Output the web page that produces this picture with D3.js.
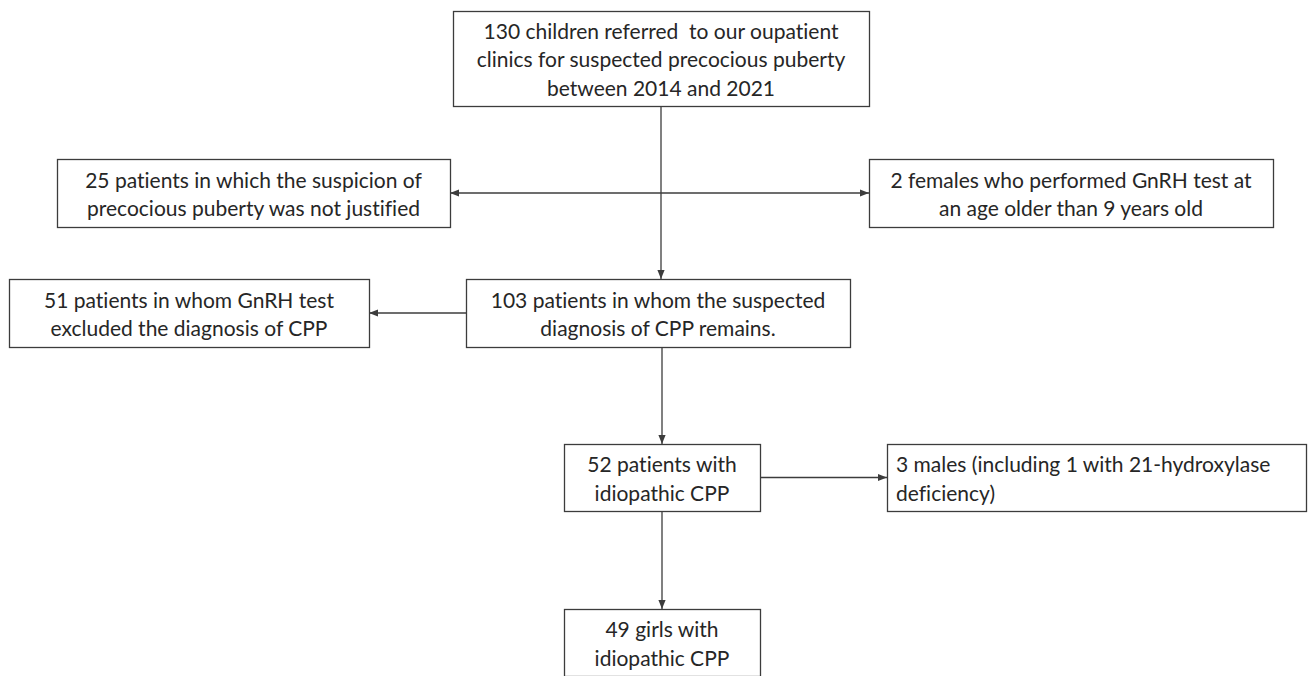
<!DOCTYPE html>
<html>
<head>
<meta charset="utf-8">
<script src="https://cdn.jsdelivr.net/npm/d3@7"></script>
<style>
  html, body { margin: 0; padding: 0; background: #fff; }
  svg { display: block; }
</style>
</head>
<body>
<svg id="chart" width="1309" height="676"></svg>
<script>
// ---- content (data) ----
const boxIds = ["start", "notJustified", "older", "excluded", "remains", "idiopathic", "males", "girls"];
const boxTexts = [
  ["130 children referred  to our oupatient", "clinics for suspected precocious puberty", "between 2014 and 2021"],
  ["25 patients in which the suspicion of", "precocious puberty was not justified"],
  ["2 females who performed GnRH test at", "an age older than 9 years old"],
  ["51 patients in whom GnRH test", "excluded the diagnosis of CPP"],
  ["103 patients in whom the suspected", "diagnosis of CPP remains."],
  ["52 patients with", "idiopathic CPP"],
  ["3 males (including 1 with 21-hydroxylase", "deficiency)"],
  ["49 girls with", "idiopathic CPP"]
];
const flowLinks = [
  ["start", "remains"],
  ["start", "notJustified"],
  ["start", "older"],
  ["remains", "excluded"],
  ["remains", "idiopathic"],
  ["idiopathic", "males"],
  ["idiopathic", "girls"]
];

// ---- layout (separate from data) ----
const layout = {
  start:        {x0: 453, x1: 869, y0: 11,  y1: 106, align: "middle"},
  notJustified: {x0: 57,  x1: 450, y0: 159, y1: 227, align: "middle"},
  older:        {x0: 869, x1: 1273, y0: 159, y1: 227, align: "middle"},
  excluded:     {x0: 9,   x1: 369, y0: 279, y1: 347, align: "middle"},
  remains:      {x0: 466, x1: 850, y0: 279, y1: 347, align: "middle"},
  idiopathic:   {x0: 564, x1: 760, y0: 444, y1: 511, align: "middle"},
  males:        {x0: 887, x1: 1306, y0: 444, y1: 511, align: "start"},
  girls:        {x0: 564, x1: 760, y0: 609, y1: 676, align: "middle"}
};

const svg = d3.select("#chart");
const lineColor = "#3c3c3c";
const textColor = "#262626";
const fontFamily = "Lato, 'Open Sans', sans-serif";
const fontSize = 21;
const lineGap = 28.5;

const defs = svg.append("defs");
defs.append("marker")
  .attr("id", "arrow")
  .attr("viewBox", "0 0 10 10")
  .attr("refX", 10).attr("refY", 5)
  .attr("markerWidth", 9).attr("markerHeight", 9)
  .attr("markerUnits", "userSpaceOnUse")
  .attr("orient", "auto")
  .append("path")
  .attr("d", "M0,1 L10,5 L0,9 Z")
  .attr("fill", lineColor);

const nodes = boxIds.map((id, i) => ({id, lines: boxTexts[i], ...layout[id]}));
const byId = new Map(nodes.map(n => [n.id, n]));

// connectors
const cx = 661;
const links = svg.append("g").attr("fill", "none").attr("stroke", lineColor).attr("stroke-width", 1.3);

function seg(x1, y1, x2, y2, arrow) {
  const l = links.append("line")
    .attr("x1", x1).attr("y1", y1).attr("x2", x2).attr("y2", y2);
  if (arrow) l.attr("marker-end", "url(#arrow)");
  return l;
}

flowLinks.forEach(([s, t]) => {
  const a = byId.get(s), b = byId.get(t);
  if (s === "start" && t === "remains") {
    seg(cx, a.y1, cx, b.y0, true);
  } else if (s === "start") {
    const y = (b.y0 + b.y1) / 2;
    if (b.x1 < cx) seg(cx, y, b.x1, y, true);
    else seg(cx, y, b.x0, y, true);
  } else if (b.y0 >= a.y1) {
    seg(cx + 1, a.y1, cx + 1, b.y0, true);
  } else {
    const y = (b.y0 + b.y1) / 2;
    if (b.x1 <= a.x0) seg(a.x0, y, b.x1, y, true);
    else seg(a.x1, y, b.x0, y, true);
  }
});

// boxes
const g = svg.append("g").selectAll("g").data(nodes).join("g");
g.append("rect")
  .attr("x", d => d.x0 + 0.5).attr("y", d => d.y0 + 0.5)
  .attr("width", d => d.x1 - d.x0).attr("height", d => d.y1 - d.y0)
  .attr("fill", "#fff").attr("stroke", lineColor).attr("stroke-width", 1.3);

g.each(function(d) {
  const sel = d3.select(this);
  const n = d.lines.length;
  const midY = (d.y0 + d.y1) / 2 + 1.5;
  const tx = d.align === "start" ? d.x0 + 9 : (d.x0 + d.x1) / 2;
  d.lines.forEach((line, i) => {
    sel.append("text")
      .attr("x", tx)
      .attr("y", midY + (i - (n - 1) / 2) * lineGap)
      .attr("dy", "0.35em")
      .attr("text-anchor", d.align)
      .attr("font-family", fontFamily)
      .attr("font-size", fontSize)
      .attr("fill", textColor)
      .attr("xml:space", "preserve")
      .style("font-variant-ligatures", "none")
      .text(line);
  });
});
</script>
</body>
</html>
